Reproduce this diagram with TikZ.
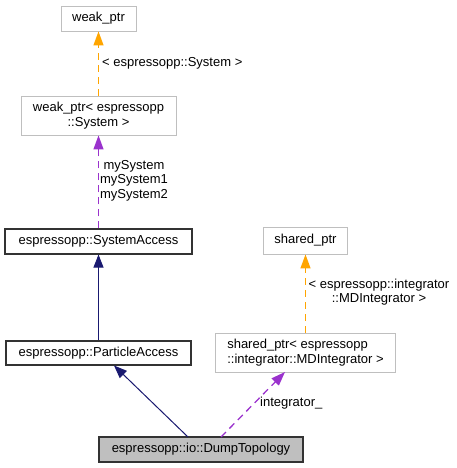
\documentclass[tikz,border=0pt]{standalone}
\usepackage{fontspec}
\setmainfont{Liberation Sans}
\usetikzlibrary{arrows.meta}
\definecolor{navy}{HTML}{191970}
\definecolor{purp}{HTML}{9A32CD}
\definecolor{orng}{HTML}{FFA500}
\definecolor{gbord}{HTML}{BFBFBF}
\definecolor{gfill}{HTML}{BFBFBF}
\begin{document}
\begin{tikzpicture}[x=1pt,y=-1pt,
  every node/.style={font=\fontsize{13}{14.5}\selectfont, inner sep=0pt},
  graybox/.style={draw=gbord, line width=0.9pt, fill=white, rectangle},
  blackbox/.style={draw=black!80, line width=1.1pt, fill=white, rectangle},
  inh/.style={draw=navy, line width=1pt, -{Triangle[length=13pt,width=10pt,fill=navy]}},
  usearrow/.style={draw=purp, line width=1.3pt, dash pattern=on 7pt off 5pt, -{Triangle[length=14pt,width=10pt,fill=purp]}},
  tmpl/.style={draw=orng, line width=1.3pt, dash pattern=on 7pt off 5pt, -{Triangle[length=14pt,width=10pt,fill=orng]}},
  elabel/.style={font=\fontsize{13}{14.5}\selectfont, align=center}
]
\useasboundingbox (0,0) rectangle (456,468);
\node[graybox, minimum width=75pt, minimum height=25pt] (wp) at (98.5,18.5) {weak\_ptr};
\node[graybox, minimum width=155pt, minimum height=39pt, align=center] (wps) at (98.5,115.5) {weak\_ptr< espressopp\\::System >};
\node[blackbox, minimum width=187pt, minimum height=25pt] (sa) at (98.5,241.5) {espressopp::SystemAccess};
\node[blackbox, minimum width=185pt, minimum height=24pt] (pa) at (98.5,353) {espressopp::ParticleAccess};
\node[blackbox, fill=gfill, minimum width=204pt, minimum height=25pt] (dt) at (201,449.5) {espressopp::io::DumpTopology};
\node[graybox, minimum width=84pt, minimum height=27pt] (sp) at (305.5,240.5) {shared\_ptr};
\node[graybox, minimum width=180pt, minimum height=39pt, align=left] (sps) at (305.5,352.5) {shared\_ptr< espressopp\\::integrator::MDIntegrator >};

\draw[tmpl] (wps.north) -- (wp.south);
\node[elabel, anchor=west] (l1) at (102,63) {< espressopp::System >};
\draw[usearrow] (sa.north) -- (wps.south);
\node[elabel] (l2) at (134,180.5) {mySystem\\mySystem1\\mySystem2};
\draw[inh] (pa.north) -- (sa.south);
\coordinate (dtA) at (188,437);
\coordinate (dtB) at (221,437);
\coordinate (spsA) at (285,372);
\coordinate (paB) at (114,365.5);
\draw[inh] (dtA) -- (paB);
\draw[usearrow] (dtB) -- (spsA);
\node[elabel, anchor=west] (l3) at (260,403) {integrator\_};
\draw[tmpl] (sps.north) -- (sp.south);
\node[elabel] (l4) at (379,292) {< espressopp::integrator\\::MDIntegrator >};
\end{tikzpicture}
\end{document}
